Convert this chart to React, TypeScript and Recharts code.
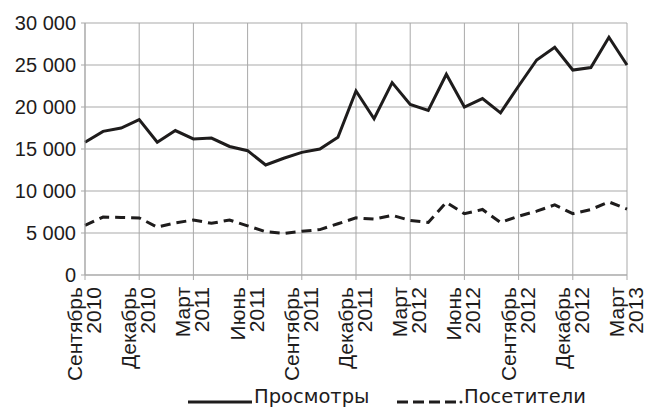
import { LineChart, Line, XAxis, YAxis, CartesianGrid, Legend } from "recharts";

const MONTHS = [
  "Сентябрь 2010", "Октябрь 2010", "Ноябрь 2010", "Декабрь 2010",
  "Январь 2011", "Февраль 2011", "Март 2011", "Апрель 2011", "Май 2011", "Июнь 2011",
  "Июль 2011", "Август 2011", "Сентябрь 2011", "Октябрь 2011", "Ноябрь 2011", "Декабрь 2011",
  "Январь 2012", "Февраль 2012", "Март 2012", "Апрель 2012", "Май 2012", "Июнь 2012",
  "Июль 2012", "Август 2012", "Сентябрь 2012", "Октябрь 2012", "Ноябрь 2012", "Декабрь 2012",
  "Январь 2013", "Февраль 2013", "Март 2013",
];

const VIEWS = [
  15800, 17100, 17500, 18500, 15800, 17200, 16200, 16300, 15300, 14800,
  13100, 13900, 14600, 15000, 16400, 21900, 18600, 22900, 20300, 19600,
  23900, 20000, 21000, 19300, 22500, 25600, 27100, 24400, 24700, 28300, 25000,
];

const VISITORS = [
  5900, 6900, 6850, 6800, 5700, 6200, 6550, 6150, 6550, 5850,
  5150, 4950, 5200, 5400, 6100, 6800, 6650, 7100, 6500, 6250,
  8650, 7300, 7800, 6250, 7000, 7600, 8350, 7300, 7800, 8700, 7850,
];

const X_TICKS = [
  "Сентябрь 2010", "Декабрь 2010", "Март 2011", "Июнь 2011", "Сентябрь 2011", "Декабрь 2011",
  "Март 2012", "Июнь 2012", "Сентябрь 2012", "Декабрь 2012", "Март 2013",
];

const Y_TICKS = [0, 5000, 10000, 15000, 20000, 25000, 30000];

const SERIES_NAMES = { views: "Просмотры", visitors: "Посетители" };

const data = MONTHS.map((m, i) => ({ m, views: VIEWS[i], visitors: VISITORS[i] }));

const INK = "#1e1c1c";
const GRID = "#a9a9a9";
const FONT = "'Liberation Sans', Arial, sans-serif";

const fmtY = (v: number) => (v === 0 ? "0" : `${v / 1000} 000`);

function MonthTick({ x, y, payload }: any) {
  const [month, year] = String(payload.value).split(" ");
  return (
    <g transform={`translate(${x},${y})`}>
      <text
        transform="rotate(-90)"
        textAnchor="end"
        fontFamily={FONT}
        fontSize={21}
        fill={INK}
      >
        <tspan x={0} dy={-3}>{month}</tspan>
        <tspan x={0} dy={19}>{year}</tspan>
      </text>
    </g>
  );
}

function ChartLegend() {
  const label = { fontFamily: "'DejaVu Sans', sans-serif", fontSize: 19.5, color: INK, lineHeight: "24px" };
  return (
    <div style={{ position: "relative", height: 24, width: 646 }}>
      <svg width={646} height={24} style={{ position: "absolute", left: 0, top: 0 }}>
        <line x1={188} x2={252} y1={17} y2={17} stroke={INK} strokeWidth={3} />
        <line x1={397} x2={457} y1={17} y2={17} stroke={INK} strokeWidth={3} strokeDasharray="11 5" />
        <circle cx={461} cy={17} r={1.5} fill={INK} />
      </svg>
      <span style={{ ...label, position: "absolute", left: 254, top: 0 }}>{SERIES_NAMES.views}</span>
      <span style={{ ...label, position: "absolute", left: 464, top: 0 }}>{SERIES_NAMES.visitors}</span>
    </div>
  );
}

export default function App() {
  return (
    <div style={{ width: 646, height: 409, background: "#fff" }}>
      <style>{"body{margin:0}"}</style>
      <LineChart width={646} height={409} data={data} margin={{ top: 23, right: 19, bottom: 0, left: 0 }}>
        <CartesianGrid stroke={GRID} strokeWidth={1} />
        <XAxis
          dataKey="m"
          ticks={X_TICKS}
          interval={0}
          height={110}
          tick={<MonthTick />}
          tickSize={5}
          tickMargin={7}
          stroke={GRID}
        />
        <YAxis
          width={85}
          domain={[0, 30000]}
          ticks={Y_TICKS}
          tickFormatter={fmtY}
          tickSize={4}
          tickMargin={5}
          stroke={GRID}
          tick={{ fill: INK, fontFamily: FONT, fontSize: 20 }}
        />
        <Legend verticalAlign="bottom" height={24} content={<ChartLegend />} />
        <Line
          dataKey="views"
          name={SERIES_NAMES.views}
          stroke={INK}
          strokeWidth={3}
          dot={false}
          isAnimationActive={false}
        />
        <Line
          dataKey="visitors"
          name={SERIES_NAMES.visitors}
          stroke={INK}
          strokeWidth={3}
          strokeDasharray="10 6"
          dot={false}
          isAnimationActive={false}
        />
      </LineChart>
    </div>
  );
}
